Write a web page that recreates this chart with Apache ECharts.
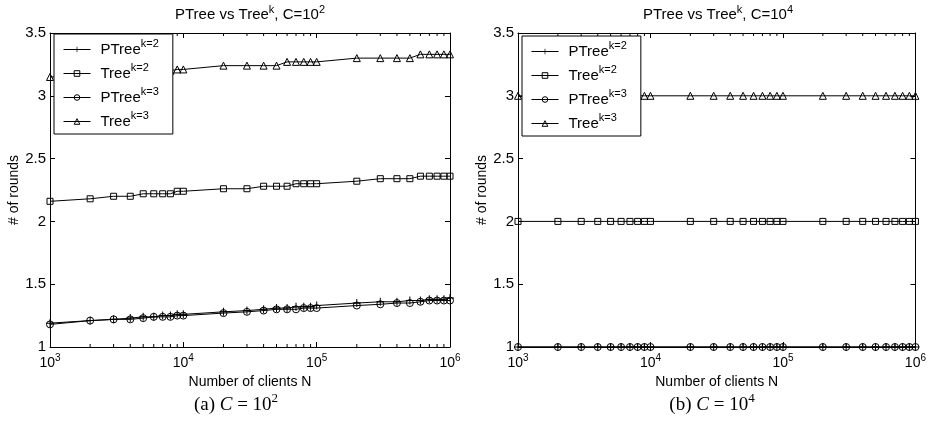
<!DOCTYPE html>
<html>
<head>
<meta charset="utf-8">
<script src="https://cdn.jsdelivr.net/npm/echarts@6/dist/echarts.min.js"></script>
<style>
html, body { margin: 0; padding: 0; background: #fff; }
#main { width: 929px; height: 436px; }
</style>
</head>
<body>
<div id="main"></div>
<script>
// number of clients N (x, log axis)
var clients = [1000, 2000, 3000, 4000, 5000, 6000, 7000, 8000, 9000,
    10000, 20000, 30000, 40000, 50000, 60000, 70000, 80000, 90000,
    100000, 200000, 300000, 400000, 500000, 600000, 700000, 800000, 900000, 1000000];
// minor log ticks drawn on top and bottom of each box
var minorTicks = [2000, 3000, 4000, 5000, 6000, 7000, 8000, 9000,
    20000, 30000, 40000, 50000, 60000, 70000, 80000, 90000,
    200000, 300000, 400000, 500000, 600000, 700000, 800000, 900000];
var seriesNames = ['PTree k=2', 'Tree k=2', 'PTree k=3', 'Tree k=3'];

// (a) C = 10^2
var ptreeK2_a = [1.19, 1.21, 1.22, 1.23, 1.24, 1.24, 1.25, 1.25, 1.26, 1.26,
    1.28, 1.29, 1.30, 1.31, 1.31, 1.32, 1.32, 1.32, 1.33,
    1.35, 1.36, 1.36, 1.37, 1.37, 1.38, 1.38, 1.38, 1.39];
var treeK2_a = [2.16, 2.18, 2.20, 2.20, 2.22, 2.22, 2.22, 2.22, 2.24, 2.24,
    2.26, 2.26, 2.28, 2.28, 2.28, 2.30, 2.30, 2.30, 2.30,
    2.32, 2.34, 2.34, 2.34, 2.36, 2.36, 2.36, 2.36, 2.36];
var ptreeK3_a = [1.18, 1.21, 1.22, 1.22, 1.23, 1.24, 1.24, 1.24, 1.25, 1.25,
    1.27, 1.28, 1.29, 1.30, 1.30, 1.30, 1.31, 1.31, 1.31,
    1.33, 1.34, 1.35, 1.35, 1.36, 1.37, 1.37, 1.37, 1.37];
var treeK3_a = [3.15, 3.16, 3.17, 3.18, 3.18, 3.19, 3.20, 3.20, 3.21, 3.21,
    3.24, 3.24, 3.24, 3.24, 3.27, 3.27, 3.27, 3.27, 3.27,
    3.30, 3.30, 3.30, 3.30, 3.33, 3.33, 3.33, 3.33, 3.33];

// (b) C = 10^4
var ptreeK2_b = [1, 1, 1, 1, 1, 1, 1, 1, 1, 1, 1, 1, 1, 1, 1, 1, 1, 1, 1, 1, 1, 1, 1, 1, 1, 1, 1, 1];
var treeK2_b = [2, 2, 2, 2, 2, 2, 2, 2, 2, 2, 2, 2, 2, 2, 2, 2, 2, 2, 2, 2, 2, 2, 2, 2, 2, 2, 2, 2];
var ptreeK3_b = [1, 1, 1, 1, 1, 1, 1, 1, 1, 1, 1, 1, 1, 1, 1, 1, 1, 1, 1, 1, 1, 1, 1, 1, 1, 1, 1, 1];
var treeK3_b = [3, 3, 3, 3, 3, 3, 3, 3, 3, 3, 3, 3, 3, 3, 3, 3, 3, 3, 3, 3, 3, 3, 3, 3, 3, 3, 3, 3];

var FONT = 'Liberation Sans, Arial, sans-serif';
var SERIF = 'Liberation Serif, DejaVu Serif, serif';
var PLUS = 'path://M3.5,0 H4.5 V3.5 H8 V4.5 H4.5 V8 H3.5 V4.5 H0 V3.5 H3.5 Z';
var symbols = [PLUS, 'rect', 'circle', 'triangle'];
var symSizes = [8, 6, 7, 7];

var supRich = {
    b: { fontFamily: FONT, fontSize: 14, color: '#000' },
    s: { fontFamily: FONT, fontSize: 10, color: '#000', padding: [0, 0, 10, 0] }
};
var legRich = {
    b: { fontFamily: FONT, fontSize: 15, color: '#000' },
    s: { fontFamily: FONT, fontSize: 11, color: '#000', padding: [0, 0, 12, 0] }
};

// matlab markers are hollow, the line shows through them
function markerStyle(idx) {
    if (idx === 0) return { color: '#000', borderColor: '#000', borderWidth: 0 };
    return { color: 'rgba(0,0,0,0)', borderColor: '#000', borderWidth: 1 };
}

function mkSeries(idx, values, g) {
    return {
        name: seriesNames[idx],
        type: 'line',
        xAxisIndex: g * 2,
        yAxisIndex: g * 2,
        data: clients.map(function (c, i) { return [c, values[i]]; }),
        symbol: symbols[idx],
        symbolSize: symSizes[idx],
        showAllSymbol: true,
        clip: false,
        animation: false,
        lineStyle: { color: '#000', width: 1 },
        itemStyle: markerStyle(idx),
        emphasis: { disabled: true }
    };
}

function mkMinor(g) {
    return {
        type: 'custom',
        xAxisIndex: g * 2,
        yAxisIndex: g * 2,
        data: minorTicks.map(function (v) { return [v]; }),
        encode: { x: 0 },
        silent: true,
        clip: false,
        animation: false,
        renderItem: function (params, api) {
            var b = api.coord([api.value(0), 1]);
            var t = api.coord([api.value(0), 3.5]);
            return {
                type: 'group',
                children: [
                    { type: 'line', shape: { x1: b[0], y1: b[1], x2: b[0], y2: b[1] - 3 }, style: { stroke: '#000', lineWidth: 1 } },
                    { type: 'line', shape: { x1: t[0], y1: t[1], x2: t[0], y2: t[1] + 3 }, style: { stroke: '#000', lineWidth: 1 } }
                ]
            };
        }
    };
}

function xAxes(g) {
    var common = {
        type: 'log', logBase: 10, gridIndex: g, min: 1000, max: 1000000,
        axisLine: { onZero: false, lineStyle: { color: '#000', width: 1 } },
        axisTick: { inside: true, length: 5, lineStyle: { color: '#000' } },
        splitLine: { show: false }
    };
    var bottom = Object.assign({}, common, {
        position: 'bottom',
        axisLabel: {
            margin: 6,
            formatter: function (v) { return '{b|10}{s|' + Math.round(Math.log10(v)) + '}'; },
            rich: supRich
        },
        name: 'Number of clients N', nameLocation: 'middle', nameGap: 25,
        nameTextStyle: { fontFamily: FONT, fontSize: 14, color: '#000' }
    });
    var top = Object.assign({}, common, { position: 'top', axisLabel: { show: false } });
    return [bottom, top];
}

function yAxes(g) {
    var common = {
        type: 'value', gridIndex: g, min: 1, max: 3.5, interval: 0.5,
        axisLine: { show: true, onZero: false, lineStyle: { color: '#000', width: 1 } },
        axisTick: { show: true, inside: true, length: 5, lineStyle: { color: '#000' } },
        splitLine: { show: false }
    };
    var left = Object.assign({}, common, {
        position: 'left',
        axisLabel: { margin: 4, fontFamily: FONT, fontSize: 15, color: '#000' },
        name: '# of rounds', nameLocation: 'middle', nameGap: 26, nameRotate: 90,
        nameTextStyle: { fontFamily: FONT, fontSize: 14, color: '#000' }
    });
    var right = Object.assign({}, common, { position: 'right', axisLabel: { show: false } });
    return [left, right];
}

function mkLegend(g, left, top) {
    return {
        orient: 'vertical',
        left: left, top: top,
        z: 10,
        data: seriesNames.map(function (n, i) { return { name: n, itemStyle: markerStyle(i) }; }),
        itemWidth: 27, itemHeight: 7, itemGap: 5,
        padding: [4, 14, 5, 9],
        borderColor: '#000', borderWidth: 1,
        backgroundColor: '#fff',
        selectedMode: false,
        lineStyle: { width: 1 },
        formatter: function (name) {
            var p = name.split(' ');
            return '{b|' + p[0] + '}{s|' + p[1] + '}';
        },
        textStyle: { fontFamily: FONT, fontSize: 15, color: '#000', padding: [0, 0, 0, 5], rich: legRich }
    };
}

function textEl(x, y, text, font, rich) {
    return {
        type: 'text', x: x, y: y, silent: true,
        style: { text: text, font: font, fill: '#000', align: 'center', verticalAlign: 'middle', rich: rich }
    };
}

var titleRich = {
    s: { fontFamily: FONT, fontSize: 11, color: '#000', padding: [0, 0, 11, 0] }
};
var capRich = {
    i: { fontFamily: SERIF, fontSize: 19, fontStyle: 'italic', color: '#000' },
    s: { fontFamily: SERIF, fontSize: 13, color: '#000', padding: [0, 0, 12, 0] }
};

var chart = echarts.init(document.getElementById('main'), null, { renderer: 'canvas' });
var option = {
    backgroundColor: '#fff',
    animation: false,
    grid: [
        { left: 50, top: 33, width: 400, height: 314 },
        { left: 518, top: 33, width: 400, height: 314 }
    ],
    xAxis: xAxes(0).concat(xAxes(1)),
    yAxis: yAxes(0).concat(yAxes(1)),
    legend: [mkLegend(0, 54, 34), mkLegend(1, 522, 36)],
    graphic: [
        textEl(250, 15, 'PTree vs Tree{s|k}, C=10{s|2}', '15px ' + FONT, titleRich),
        textEl(718, 15, 'PTree vs Tree{s|k}, C=10{s|4}', '15px ' + FONT, titleRich),
        textEl(236, 405, '(a) {i|C} = 10{s|2}', '19px ' + SERIF, capRich),
        textEl(712, 405, '(b) {i|C} = 10{s|4}', '19px ' + SERIF, capRich)
    ],
    series: [
        mkSeries(0, ptreeK2_a, 0), mkSeries(1, treeK2_a, 0), mkSeries(2, ptreeK3_a, 0), mkSeries(3, treeK3_a, 0),
        mkSeries(0, ptreeK2_b, 1), mkSeries(1, treeK2_b, 1), mkSeries(2, ptreeK3_b, 1), mkSeries(3, treeK3_b, 1),
        mkMinor(0), mkMinor(1)
    ]
};
chart.setOption(option);
</script>
</body>
</html>
